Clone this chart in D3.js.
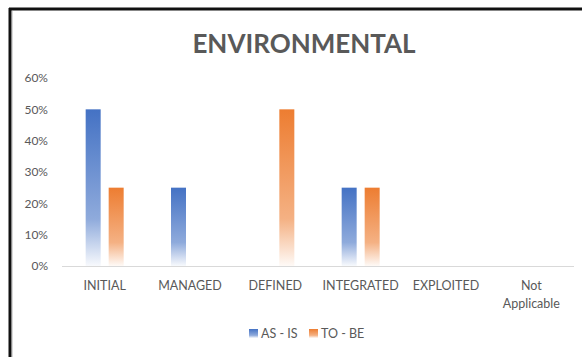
<!DOCTYPE html>
<html><head><meta charset="utf-8">
<script src="https://cdn.jsdelivr.net/npm/d3@7"></script>
<style>body{margin:0;background:#fff;}svg{display:block;font-family:Lato,"Open Sans",sans-serif;}</style>
</head><body>
<svg id="c" width="582" height="357"></svg>
<script>
const categories = ["INITIAL","MANAGED","DEFINED","INTEGRATED","EXPLOITED","Not Applicable"];
const asIs = [0.50, 0.25, 0, 0.25, 0, 0];
const toBe = [0.25, 0, 0.50, 0.25, 0, 0];
const seriesNames = ["AS - IS","TO - BE"];
const seriesColors = ["#4472C4","#ED7D31"];
const yTicks = [0,0.1,0.2,0.3,0.4,0.5,0.6];

const svg = d3.select("#c");
svg.append("rect").attr("x",0).attr("y",0).attr("width",582).attr("height",357).attr("fill","#fff");
svg.append("line").attr("x1",10).attr("x2",10).attr("y1",8).attr("y2",357).attr("stroke","#111").attr("stroke-width",3);
svg.append("line").attr("x1",9).attr("x2",582).attr("y1",9).attr("y2",9).attr("stroke","#111").attr("stroke-width",3);
svg.append("line").attr("x1",12.5).attr("x2",12.5).attr("y1",11).attr("y2",357).attr("stroke","#d9d9d9").attr("stroke-width",1);

const defs = svg.append("defs");
seriesColors.forEach((c,i)=>{
  const g = defs.append("linearGradient").attr("id","g"+i).attr("x1",0).attr("y1",0).attr("x2",0).attr("y2",1);
  g.append("stop").attr("offset","0%").attr("stop-color",c).attr("stop-opacity",1);
  g.append("stop").attr("offset","70%").attr("stop-color",c).attr("stop-opacity",0.6);
  g.append("stop").attr("offset","100%").attr("stop-color",c).attr("stop-opacity",0.04);
});

const x = d3.scaleBand().domain(categories).range([62,574]);
const y = d3.scaleLinear().domain([0,0.6]).range([266,78]);

svg.append("text").attr("x",304).attr("y",53).attr("text-anchor","middle")
  .attr("font-size",26).attr("font-weight","bold").attr("fill","#595959").text("ENVIRONMENTAL");

const ya = svg.append("g").attr("transform","translate(51,0)")
  .call(d3.axisLeft(y).tickValues(yTicks).tickFormat(d3.format(".0%")).tickSize(0));
ya.select(".domain").remove();
ya.selectAll("text").attr("fill","#595959").attr("font-size",12).attr("font-family",'Lato,"Open Sans",sans-serif');

svg.append("line").attr("x1",62).attr("x2",574).attr("y1",y(0)+0.5).attr("y2",y(0)+0.5).attr("stroke","#d9d9d9");

const bw = 15, gap = 8;
const data = [asIs,toBe];
data.forEach((vals,si)=>{
  svg.append("g").selectAll("rect").data(vals.map((v,i)=>({v,c:categories[i]})).filter(d=>d.v>0))
    .join("rect")
    .attr("x",d=>x(d.c)+x.bandwidth()/2 + (si===0 ? -gap/2-bw : gap/2))
    .attr("y",d=>y(d.v)).attr("width",bw).attr("height",d=>y(0)-y(d.v))
    .attr("fill",`url(#g${si})`);
});

const xl = svg.append("g");
categories.forEach(c=>{
  const words = c==="Not Applicable" ? ["Not","Applicable"] : [c];
  words.forEach((w,k)=>{
    xl.append("text").attr("x",x(c)+x.bandwidth()/2).attr("y",290+k*18).attr("text-anchor","middle")
      .attr("font-size",12.5).attr("fill","#595959").text(w);
  });
});

const leg = svg.append("g");
const legX = [249,309];
seriesNames.forEach((n,i)=>{
  leg.append("rect").attr("x",legX[i]).attr("y",329).attr("width",9).attr("height",9).attr("fill",`url(#g${i})`);
  leg.append("text").attr("x",legX[i]+12).attr("y",338).attr("font-size",12.5).attr("fill","#595959").text(n);
});
</script>
</body></html>
